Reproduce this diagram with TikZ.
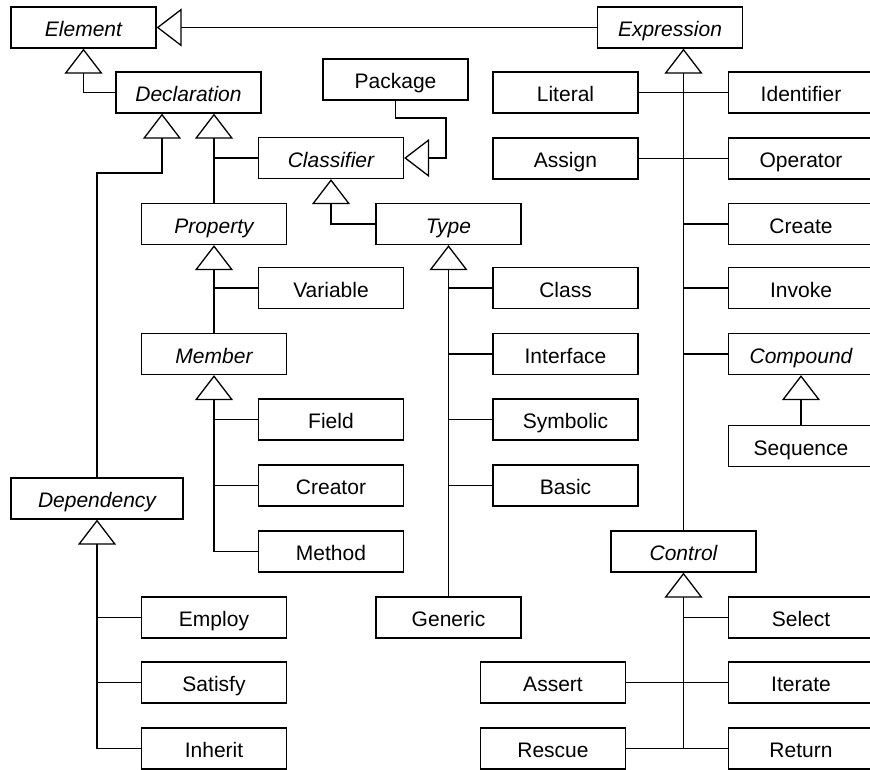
\documentclass[tikz,border=0pt]{standalone}
\usepackage{fontspec}
\setmainfont{Liberation Sans}
\usetikzlibrary{arrows.meta}
\begin{document}
\begin{tikzpicture}[x=1pt,y=-1pt,
  cls/.style={draw,line width=1.3pt,rectangle,minimum width=145pt,minimum height=41pt,inner sep=0pt,text height=20pt,text depth=2pt,font=\fontsize{21}{24}\selectfont},
  abs/.style={cls,font=\fontsize{21}{24}\selectfont\itshape},
  ln/.style={line width=1.3pt},
  inh/.style={ln,-{Triangle[open,length=25pt,width=38pt,line width=1.3pt]}}]
\useasboundingbox (0,0) rectangle (870,769);
% row y: 27.5 92.5 158 224 288 354 419.5 485.5 551.5 617.5 682.5 748.5
\node[abs] (Element) at (83.5,27.5) {Element};
\node[abs] (Expression) at (670,27.5) {Expression};
\node[abs] (Declaration) at (188.5,92.5) {Declaration};
\node[cls] (Package) at (395.5,79.5) {Package};
\node[cls] (Literal) at (565.5,92.5) {Literal};
\node[cls] (Identifier) at (801,92.5) {Identifier};
\node[abs] (Classifier) at (331,158) {Classifier};
\node[cls] (Assign) at (565.5,158.5) {Assign};
\node[cls] (Operator) at (801,158.5) {Operator};
\node[abs] (Property) at (214,224) {Property};
\node[abs] (Type) at (448.5,224) {Type};
\node[cls] (Create) at (801,224) {Create};
\node[cls] (Variable) at (331,288) {Variable};
\node[cls] (Class) at (565.5,288) {Class};
\node[cls] (Invoke) at (801,288) {Invoke};
\node[abs] (Member) at (214,354) {Member};
\node[cls] (Interface) at (565.5,354) {Interface};
\node[abs] (Compound) at (801,354) {Compound};
\node[cls] (Field) at (331,419.5) {Field};
\node[cls] (Symbolic) at (565.5,419.5) {Symbolic};
\node[cls] (Sequence) at (801,446) {Sequence};
\node[cls] (Creator) at (331,485.5) {Creator};
\node[cls] (Basic) at (565.5,485.5) {Basic};
\node[abs,minimum width=172pt] (Dependency) at (97,498.5) {Dependency};
\node[cls] (Method) at (331,551.5) {Method};
\node[abs] (Control) at (683.5,551.5) {Control};
\node[cls] (Employ) at (214,617.5) {Employ};
\node[cls] (Generic) at (448.5,617.5) {Generic};
\node[cls] (Select) at (801,617.5) {Select};
\node[cls] (Satisfy) at (214,682.5) {Satisfy};
\node[cls] (Assert) at (553,682.5) {Assert};
\node[cls] (Iterate) at (801,682.5) {Iterate};
\node[cls] (Inherit) at (214,748.5) {Inherit};
\node[cls] (Rescue) at (553,748.5) {Rescue};
\node[cls] (Return) at (801,748.5) {Return};
% helper coordinates
\coordinate (declA) at ([xshift=-26.5pt]Declaration.south);
\coordinate (declB) at ([xshift=25.5pt]Declaration.south);
\coordinate (exprT) at ([xshift=13.5pt]Expression.south);
\coordinate (depBend) at (97,173);
\coordinate (pkgBend1) at (395.5,118);
\coordinate (pkgBend2) at (446,118);
% Element hierarchy
\draw[inh] (Expression.west) -- (Element.east);
\draw[inh] (Declaration.west) -| (Element.south);
\draw[inh] (Dependency.north) -- (depBend) -| (declA);
\draw[inh] (Property.north) -- (declB);
\draw[ln] (Classifier.west) -- (Classifier.west -| declB);
\draw[inh] (Package.south) -- (pkgBend1) -- (pkgBend2) |- (Classifier.east);
\draw[inh] (Type.west) -| (Classifier.south);
% Property / Member
\draw[inh] (Member.north) -- (Property.south);
\draw[ln] (Variable.west) -- (Variable.west -| Property.south);
\draw[inh] (Method.west) -| (Member.south);
\draw[ln] (Field.west) -- (Field.west -| Member.south);
\draw[ln] (Creator.west) -- (Creator.west -| Member.south);
% Type
\draw[inh] (Generic.north -| Type.south) -- (Type.south);
\draw[ln] (Class.west) -- (Class.west -| Type.south);
\draw[ln] (Interface.west) -- (Interface.west -| Type.south);
\draw[ln] (Symbolic.west) -- (Symbolic.west -| Type.south);
\draw[ln] (Basic.west) -- (Basic.west -| Type.south);
% Expression
\draw[inh] (Control.north) -- (exprT);
\draw[ln] (Literal.east) -- (Identifier.west);
\draw[ln] (Assign.east) -- (Operator.west);
\draw[ln] (Create.west) -- (Create.west -| exprT);
\draw[ln] (Invoke.west) -- (Invoke.west -| exprT);
\draw[ln] (Compound.west) -- (Compound.west -| exprT);
\draw[inh] (Sequence.north) -- (Compound.south);
% Control
\draw[inh] (Return.west -| Control.south) -- (Control.south);
\draw[ln] (Select.west) -- (Select.west -| Control.south);
\draw[ln] (Assert.east) -- (Iterate.west);
\draw[ln] (Rescue.east) -- (Return.west);
% Dependency
\draw[inh] (Inherit.west -| Dependency.south) -- (Dependency.south);
\draw[ln] (Employ.west) -- (Employ.west -| Dependency.south);
\draw[ln] (Satisfy.west) -- (Satisfy.west -| Dependency.south);
\draw[ln] (Inherit.west) -- (Inherit.west -| Dependency.south);
\end{tikzpicture}
\end{document}
